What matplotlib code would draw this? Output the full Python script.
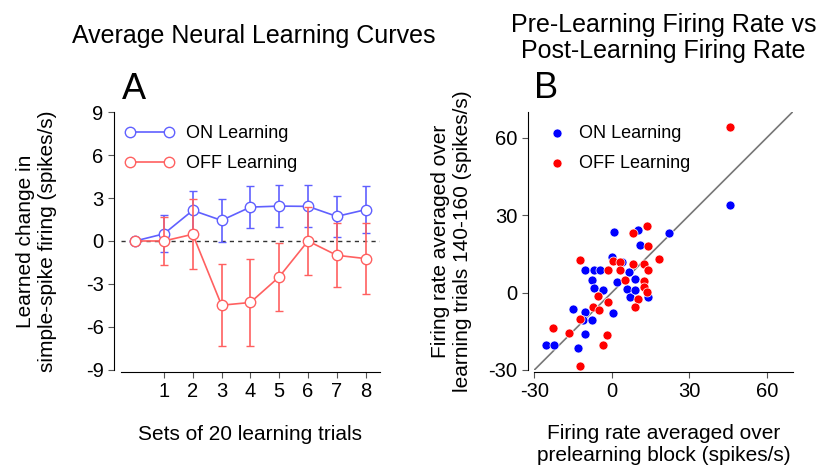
import matplotlib
matplotlib.use("Agg")
import matplotlib.pyplot as plt
from matplotlib.lines import Line2D

plt.rcParams['font.family'] = ['Liberation Sans', 'DejaVu Sans']
plt.rcParams['axes.unicode_minus'] = False

# panel A: learning curves
sets = [0, 1, 2, 3, 4, 5, 6, 7, 8]
on_mean = [0, 0.5, 2.14, 1.44, 2.37, 2.44, 2.42, 1.72, 2.19]
on_err = [0, 1.3, 1.35, 1.5, 1.45, 1.47, 1.47, 1.45, 1.65]
off_mean = [0, 0.0, 0.47, -4.49, -4.3, -2.51, 0.0, -1.0, -1.23]
off_err = [0, 1.7, 2.45, 2.85, 3.05, 2.4, 2.35, 2.25, 2.5]

# panel B: pre vs post firing rate
on_pre = [45.6, 0.9, 22.2, 10.3, 11.0, 0.0, 3.9, -10.3, -6.8, -4.5, -7.8, -6.8, -3.5,
          1.9, 6.5, 9.0, 5.8, 7.1, 9.0, 14.0, -15.1, -10.3, -11.0, -7.8, 0.6, -10.3,
          -25.5, -22.2, -12.9]
on_post = [34.1, 23.5, 23.1, 24.2, 18.6, 13.8, 11.9, 8.7, 8.9, 8.7, 4.8, 1.6, 0.9,
           4.1, 8.0, 5.4, 1.3, -1.9, 0.9, -1.9, -6.2, -7.5, -10.5, -10.7, -7.9, -16.1,
           -20.5, -20.5, -21.3]
off_pre = [45.6, 13.6, 8.4, 14.0, -12.5, 18.1, 0.6, 3.0, -1.3, 3.2, 8.4, 12.5, 14.2,
           5.2, 12.3, 12.3, 13.6, 10.3, 8.8, -5.2, -1.3, -7.4, -4.8, -12.5, -22.6,
           -16.4, -1.7, -3.5, -12.5]
off_post = [64.0, 25.7, 23.1, 18.0, 12.8, 12.9, 12.3, 11.9, 8.9, 8.7, 11.0, 11.0, 8.7,
            5.0, 4.5, 2.2, 0.3, -2.3, -5.6, -1.3, -3.6, -5.6, -6.8, -10.1, -13.6,
            -15.6, -16.5, -20.5, -28.6]

on_line = '#6060ff'
off_line = '#ff6060'

fig = plt.figure(figsize=(8.19, 4.75), dpi=100)

# ---- panel A
ax1 = fig.add_axes([0.1474, 0.2217, 0.3166, 0.5419])
ax1.axhline(0, color='#333333', linestyle=(0, (3, 3)), linewidth=1.0, zorder=1)
ax1.errorbar(sets, on_mean, yerr=on_err, color=on_line, marker='o', markersize=7.5,
             markerfacecolor='white', markeredgecolor=on_line, markeredgewidth=1.0,
             linewidth=1.2, elinewidth=1.2, capsize=3, capthick=1.2, zorder=3)
ax1.errorbar(sets, off_mean, yerr=off_err, color=off_line, marker='o', markersize=7.5,
             markerfacecolor='white', markeredgecolor=off_line, markeredgewidth=1.0,
             linewidth=1.2, elinewidth=1.2, capsize=3, capthick=1.2, zorder=4)
ax1.set_xlim(-0.5, 8.5)
ax1.set_ylim(-9, 9)
ax1.set_xticks([1, 2, 3, 4, 5, 6, 7, 8])
ax1.set_yticks([-9, -6, -3, 0, 3, 6, 9])
ax1.spines['top'].set_visible(False)
ax1.spines['right'].set_visible(False)
ax1.spines['left'].set_position(('outward', 4.8))
ax1.spines['bottom'].set_position(('outward', 1.5))
ax1.tick_params(labelsize=14.5, length=4, color='#555555')
ax1.set_xlabel('Sets of 20 learning trials', fontsize=15, labelpad=17)
ax1.set_ylabel('Learned change in\nsimple-spike firing (spikes/s)', fontsize=15, labelpad=21)
ax1.text(0.005, 1.05, 'A', transform=ax1.transAxes, fontsize=26, va='baseline', ha='left')
fig.text(0.31, 0.91, 'Average Neural Learning Curves', fontsize=18, ha='center', va='baseline')
h_on = Line2D([], [], color=on_line, marker='o', markersize=7.5, markerfacecolor='white', linewidth=1.2)
h_off = Line2D([], [], color=off_line, marker='o', markersize=7.5, markerfacecolor='white', linewidth=1.2)
ax1.legend([h_on, h_off], ['ON Learning', 'OFF Learning'], numpoints=2, frameon=False,
           loc='upper left', bbox_to_anchor=(-0.035, 1.0), fontsize=13, handlelength=2.75,
           labelspacing=0.73, handletextpad=0.65, borderaxespad=0.3)

# ---- panel B
ax2 = fig.add_axes([0.6524, 0.2211, 0.3153, 0.5432])
ax2.plot([-30, 70], [-30, 70], color='#777777', linewidth=1.2, zorder=1)
ax2.scatter(on_pre, on_post, s=42, color='#0000ff', edgecolors='white', linewidths=0.5,
            zorder=3, label='ON Learning')
ax2.scatter(off_pre, off_post, s=42, color='#ff0000', edgecolors='white', linewidths=0.5,
            zorder=4, label='OFF Learning')
ax2.set_xlim(-30, 70)
ax2.set_ylim(-30, 70)
ax2.set_xticks([-30, 0, 30, 60])
ax2.set_yticks([-30, 0, 30, 60])
ax2.spines['top'].set_visible(False)
ax2.spines['right'].set_visible(False)
ax2.spines['left'].set_position(('outward', 4.8))
ax2.spines['bottom'].set_position(('outward', 1.5))
ax2.tick_params(labelsize=14.5, length=4, color='#555555')
ax2.set_xlabel('Firing rate averaged over\nprelearning block (spikes/s)', fontsize=15, labelpad=16)
ax2.set_ylabel('Firing rate averaged over\nlearning trials 140-160 (spikes/s)', fontsize=15, labelpad=11.5)
ax2.text(0.0, 1.054, 'B', transform=ax2.transAxes, fontsize=26, va='baseline', ha='left')
fig.text(0.81, 0.878, 'Pre-Learning Firing Rate vs\nPost-Learning Firing Rate', fontsize=18,
         ha='center', va='baseline', linespacing=1.1)
ax2.legend(frameon=False, loc='upper left', bbox_to_anchor=(-0.03, 1.0), fontsize=13,
           handletextpad=0.2, labelspacing=0.73, scatterpoints=1, borderaxespad=0.3)

fig.savefig('out.png', dpi=100)
